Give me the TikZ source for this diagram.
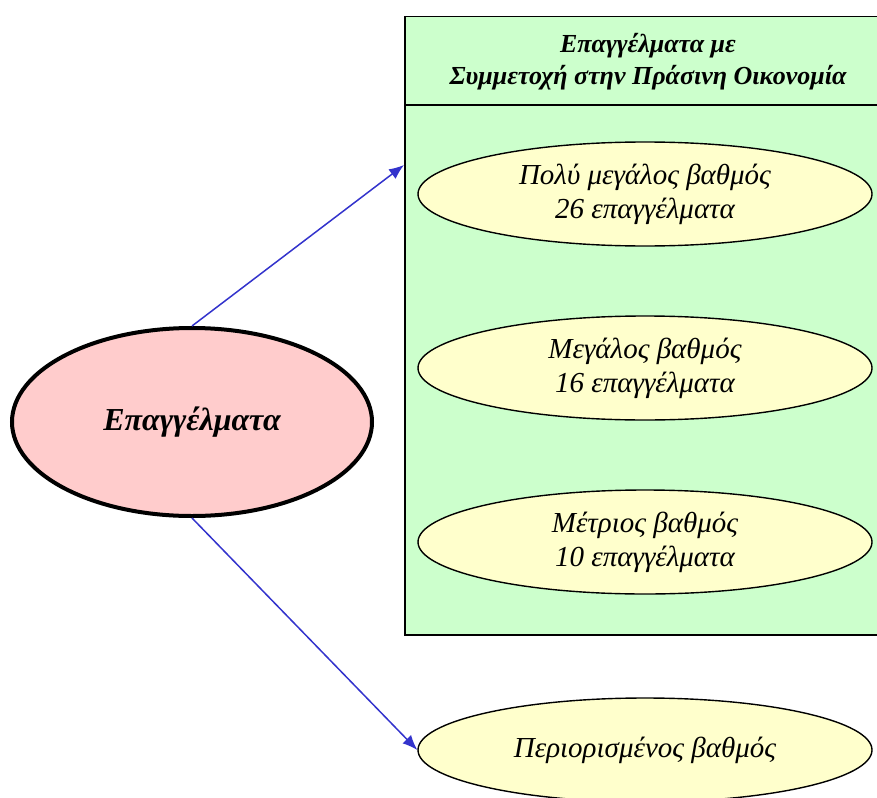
\documentclass[tikz,border=0pt]{standalone}
\usepackage{fontspec}
\setmainfont{Liberation Serif}
\usetikzlibrary{arrows.meta,shapes.geometric}

\definecolor{occpink}{HTML}{FFCCCC}
\definecolor{groupgreen}{HTML}{CCFFCC}
\definecolor{degreeyellow}{HTML}{FFFFCC}
\definecolor{linkblue}{HTML}{3333CC}

\begin{document}
\begin{tikzpicture}[x=1pt,y=-1pt,node distance=174pt,
    every node/.style={font=\fontsize{29}{34}\selectfont\itshape},
    degree/.style={ellipse,draw=black,fill=degreeyellow,line width=1.4pt,
      minimum width=454pt,minimum height=104pt,align=center,inner sep=0pt},
    link/.style={-{Latex[length=15pt,width=12pt]},draw=linkblue,line width=1.5pt}]
      \useasboundingbox (0,0) rectangle (877,797);

      % cluster box with its header
      \node[draw=black,fill=groupgreen,line width=1.5pt,anchor=north west,
            minimum width=520pt,minimum height=618pt] (box) at (404,16) {};
      \draw[line width=1.5pt] (box.west |- 0,105) -- (box.east |- 0,105);
      \node[align=center,font=\fontsize{26}{32}\selectfont\itshape\bfseries]
            (title) at (648,62) {Επαγγέλματα με\\Συμμετοχή στην Πράσινη Οικονομία};

      \node[ellipse,draw=black,fill=occpink,line width=4pt,
            minimum width=360pt,minimum height=188pt,
            font=\fontsize{32}{36}\selectfont\itshape\bfseries] (occ) at (192,422) {Επαγγέλματα};

      \node[degree]                       (high)   at (645,194) {Πολύ μεγάλος βαθμός\\26 επαγγέλματα};
      \node[degree] [below of=high]       (large)             {Μεγάλος βαθμός\\16 επαγγέλματα};
      \node[degree] [below of=large]      (medium)            {Μέτριος βαθμός\\10 επαγγέλματα};
      \node[degree] [below of=medium,yshift=-34pt] (limited)  {Περιορισμένος βαθμός};

      \coordinate (boxin) at (box.west |- 0,165);

      \draw[link] (occ.north) -- (boxin);
      \draw[link] (occ.south) -- (limited.west);
\end{tikzpicture}
\end{document}
